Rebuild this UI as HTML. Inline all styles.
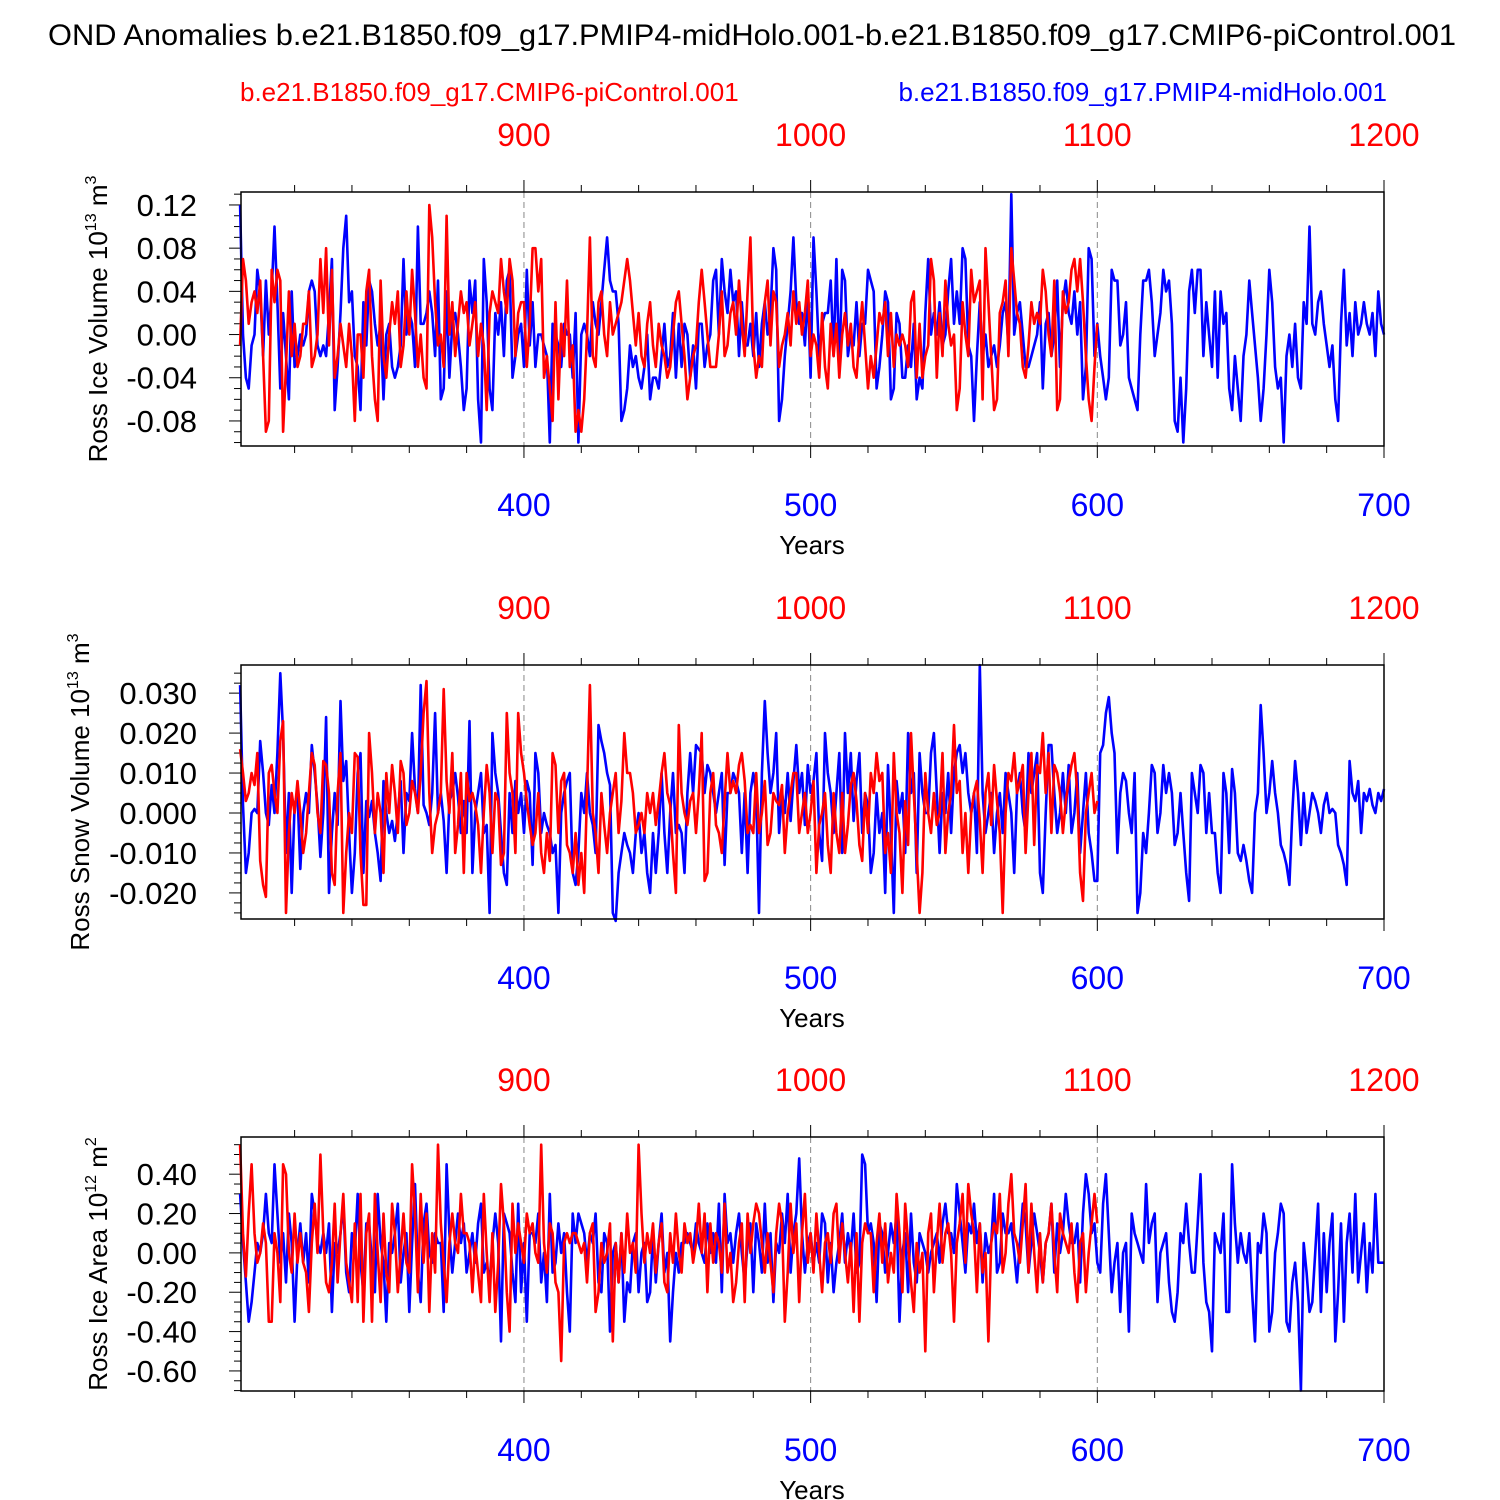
<!DOCTYPE html>
<html><head><meta charset="utf-8"><style>
html,body{margin:0;padding:0;background:#fff;}
svg{display:block;font-family:"Liberation Sans",Arial,sans-serif;}
</style></head><body>
<svg id="chart" width="1500" height="1500" viewBox="0 0 1500 1500">
<text x="752" y="45" font-size="30" text-anchor="middle" textLength="1408" lengthAdjust="spacingAndGlyphs">OND Anomalies b.e21.B1850.f09_g17.PMIP4-midHolo.001-b.e21.B1850.f09_g17.CMIP6-piControl.001</text>
<text x="240" y="101" font-size="26" fill="#ff0000">b.e21.B1850.f09_g17.CMIP6-piControl.001</text>
<text x="1387" y="101" font-size="26" fill="#0000ff" text-anchor="end">b.e21.B1850.f09_g17.PMIP4-midHolo.001</text>
</svg>
<script>
// shared axis data
const blueStart = 301;
const redStart = 801;
const xTickLabelsBlue = [400, 500, 600, 700];
const xTickLabelsRed = [900, 1000, 1100, 1200];

// panel 1: Ross Ice Volume (units of 0.01)
const iceVolBlue = [
12,0,-4,-5,-1,0,6,4,-2,5, 0,4,10,3,-5,2,-2,-6,4,-3, -2,0,-1,0,4,5,4,-1,-2,-1, -2,2,7,-7,-3,2,8,11,3,4,
-2,-3,-7,3,-1,5,4,1,-1,1, -6,0,1,-3,-4,-3,-1,7,0,2, 1,-3,10,1,1,2,4,2,-2,5, -6,-5,4,-4,1,2,0,-3,-7,-5,
5,2,5,-6,-10,7,3,-5,-7,2, 0,3,-2,5,6,-4,-2,0,1,-3, 6,-1,3,-3,0,0,-1,-2,-10,1, 0,-1,-3,1,0,0,-4,2,-10,0,
1,0,-2,3,1,0,3,6,9,5, 4,4,1,-8,-7,-5,-1,-3,-2,-4, -5,-3,0,-6,-4,-4,-5,-2,1,-3, -2,2,-4,1,-3,1,0,-4,-1,-5,
1,1,-3,-1,0,5,6,0,7,4, 2,6,3,4,-2,3,-1,-1,1,-2, 2,-3,1,3,0,2,8,6,-8,-6, -2,1,4,9,3,1,2,-1,4,-4,
9,4,-2,1,2,2,5,-2,7,-3, 6,5,-2,0,-1,3,-2,1,1,6, 5,4,-5,-3,0,4,3,-6,-5,2, 1,-4,-4,-1,-3,1,-6,-4,-5,2,
7,0,2,0,3,-1,0,4,7,1, 4,1,8,7,-1,-2,-8,-2,3,-2, 0,-3,-2,-1,-3,-1,2,3,-1,13, 0,2,3,0,-3,-3,-2,-1,0,3,
-5,1,2,-2,0,5,-3,3,5,2, 1,4,0,3,-6,-3,8,7,-2,1, -2,-4,-6,-4,6,5,5,-1,0,3, -4,-5,-6,-7,0,5,5,6,3,-2,
0,2,6,4,5,1,-8,-9,-4,-10, -5,4,6,2,6,6,-2,3,0,-3, 4,-4,4,1,2,-5,-7,-2,-5,-8, -2,0,5,2,-1,-4,-8,-5,0,6,
3,-3,-5,-4,-10,-2,0,-3,1,-4, -5,3,1,10,1,0,3,4,1,-1, -3,-1,-6,-8,1,6,-1,2,-2,3, 0,1,3,1,0,2,-2,4,1,0];
const iceVolRed = [
-1,7,5,1,3,4,2,5,-2,-9, -8,6,3,6,5,-9,-3,4,-2,1, -3,-2,1,1,4,-3,-2,0,7,2, 8,-1,6,-4,-2,1,-1,-3,1,-2,
-8,0,0,-4,4,6,-2,-6,-8,5, -2,-4,0,3,1,4,-3,-1,4,0, 6,2,-3,0,-4,-5,12,9,3,-1, 0,-3,11,0,3,-2,1,4,2,3,
-1,1,3,-2,1,-1,-7,2,4,3, 2,7,4,2,7,5,-2,2,3,3, -3,1,8,8,4,7,-4,-2,-5,-8, 3,-6,1,-2,5,-3,-1,-9,-7,-9,
-6,0,9,-2,-3,3,4,0,-2,3, 0,1,2,3,5,7,5,2,-1,2, -2,-3,1,3,-1,-3,1,-1,-2,-4, -3,0,3,4,1,-2,-6,-4,-2,-1,
3,6,3,0,-3,-3,-3,0,4,-2, -1,2,3,0,5,1,-2,4,9,-1, -4,-2,-3,3,5,-1,4,3,-3,-1, 0,2,-1,4,1,3,0,2,5,-2,
0,-1,-4,2,-3,-5,1,-2,1,-4, 0,2,-1,1,-3,-4,0,3,-1,-5, -2,-4,-1,2,1,3,-2,2,-3,0, -1,0,-1,-3,3,4,-4,1,-4,-2,
-1,7,5,-4,2,-2,5,1,-1,0, -7,-5,3,0,-2,6,3,4,5,-6, 8,3,-2,-7,-6,2,3,5,-2,8, 5,2,1,-3,-4,-1,3,1,2,1,
6,4,0,-2,5,-7,-6,4,2,3, 6,7,4,7,3,-2,-6,-8,-3,1];

// panel 2: Ross Snow Volume (units of 0.001)
const snowVolBlue = [
32,2,-15,-10,0,1,0,18,10,0, -3,7,0,15,35,20,-10,5,-20,2, 5,-14,0,5,0,17,10,2,-11,0, 24,-20,-5,5,-3,28,8,13,-5,-20,
-10,10,15,-15,3,-1,3,-5,-10,-17, 8,0,-5,-2,-7,0,8,-10,5,3, 20,6,0,32,2,0,-3,5,25,0, 5,-2,-15,3,5,10,4,-5,3,-5,
23,-15,0,5,10,-5,-3,-25,20,10, 5,-5,-15,-18,5,-5,8,0,5,-5, 8,5,-13,15,10,-5,0,-3,-5,-10, -8,-25,0,5,8,10,-15,-18,-10,5,
0,10,0,-3,-10,22,18,15,10,7, -25,-27,-15,-10,-5,-8,-10,-15,-5,0, -10,-5,-15,-20,-5,-15,-5,10,-5,-15, 0,10,-5,-3,-5,-15,5,15,5,17,
16,15,5,12,10,5,0,5,10,-13, 5,5,10,8,5,-10,5,-15,5,10, 5,-25,10,28,15,5,10,20,-5,5, 0,10,-2,8,17,5,10,-3,12,5,
8,15,-5,-12,20,10,5,-5,5,15, -10,20,5,15,-2,8,15,-5,5,2, -15,-10,5,-5,0,-20,12,-5,-25,8, 0,5,-10,20,5,10,-15,15,5,0,
0,15,20,5,-10,5,0,10,-5,10, 15,17,10,15,5,0,5,-10,37,5, -5,0,5,-10,0,5,-5,10,5,0, -15,5,10,0,-5,15,5,10,15,-15,
-20,0,17,17,5,-5,0,10,0,12, -5,0,10,-10,0,10,-5,-10,-17,-17, 15,17,25,29,20,15,-10,5,10,8, 0,-5,10,-25,-20,-5,-10,0,12,10,
-5,0,12,5,10,5,-8,-5,5,-5, -15,-22,10,5,0,12,10,-5,5,-5, -5,-15,-20,10,5,-10,11,5,-10,-12, -8,-12,-17,-20,0,5,27,15,0,5,
13,5,0,-8,-10,-13,-18,0,13,5, -8,5,-5,0,5,3,0,-5,2,5, 0,1,0,-8,-10,-13,-18,13,5,3, 8,-5,5,3,6,2,0,5,3,6];
const snowVolRed = [
16,10,3,5,10,7,15,-12,-18,-21, 10,12,5,0,18,23,-25,-5,5,0, 8,0,-10,-5,5,15,12,0,-5,13, 12,5,-15,-18,5,15,-25,-10,0,-5,
15,14,-10,-23,-23,20,10,-5,5,0, -15,10,0,12,5,-5,13,10,-3,0, 8,5,0,10,25,33,5,-10,-3,0, 5,31,8,0,15,-10,-3,10,-15,10,
3,5,2,-3,-15,0,12,5,-10,5, 3,-13,-10,25,10,5,-10,25,15,10, 3,-3,-8,-5,5,-10,-15,-5,-12,15, 12,-5,8,10,-8,-10,-15,-5,-18,-10,
-20,5,32,0,-5,-15,5,-3,-10,0, 5,10,-5,3,20,10,10,5,-5,-3, 0,-5,5,0,5,-3,3,10,15,5, 2,-10,-20,22,5,0,-3,3,5,-5,
5,20,-17,-15,5,10,-3,-5,-10,3, 15,5,8,5,12,15,8,-5,-3,-5, 10,-5,0,8,-8,-5,5,3,2,7, -10,0,5,10,10,-5,0,5,-5,0,
8,-15,-3,0,5,-8,-15,5,-5,-10, 5,-10,-3,7,10,3,-8,-12,5,-5, 10,5,15,8,10,-10,-5,-15,15,0, -5,-20,3,-8,20,5,-10,-25,-15,10,
0,-5,5,-3,0,15,-10,0,5,22, 5,8,-10,0,-15,0,5,8,-2,-15, 5,10,-3,12,3,-5,-25,0,10,8, 15,5,8,12,-10,5,15,-8,12,10,
20,5,15,-5,12,10,5,-5,3,8, 12,15,5,-15,-22,0,5,10,0,3];

// panel 3: Ross Ice Area (units of 0.01)
const iceAreaBlue = [
30,5,-15,-35,-25,-10,5,0,10,30, 10,5,45,20,-5,10,-15,20,5,-35, 0,15,-5,10,-15,30,20,5,0,10, 0,15,-30,5,0,10,25,-10,-20,10,
0,30,-5,-20,15,15,-5,-20,30,5, -5,-35,5,0,10,25,-15,0,10,-30, 5,35,-10,-25,15,25,0,-5,10,5, 5,-30,45,10,-10,5,20,5,15,-10,
0,10,-5,15,25,-10,-5,-15,5,20, 5,-45,20,15,10,-10,-25,25,-20,5, -35,10,10,5,20,-15,0,-25,30,-10, -5,15,0,10,-20,-40,20,5,20,15,
10,-5,10,5,20,-15,-20,10,5,-40, 0,5,-15,10,-35,-15,-20,5,10,-20, 0,5,-25,-20,10,-15,5,20,-10,0, -45,-20,0,-10,5,5,10,5,0,15,
5,0,-5,15,0,10,-5,25,-20,30, 5,10,-5,10,20,0,-15,5,15,-20, 15,5,-10,25,-5,10,-25,5,0,20, 5,30,-10,10,20,48,10,-10,5,10,
-5,5,-5,20,15,-15,5,-20,-5,5, 20,-5,10,0,20,-10,-5,50,45,10, 15,5,-25,15,10,-10,0,15,5,20, -35,0,10,-20,20,-5,-15,10,5,0,
-10,0,5,10,-5,15,25,10,10,0, 35,20,5,-10,15,10,25,5,15,-15, 10,0,5,30,-10,-5,20,10,10,15, 0,-15,5,25,15,-10,5,20,10,0,
-15,5,10,25,-10,15,0,10,30,15, 5,5,15,-15,20,40,30,10,15,-5, -10,25,40,10,-20,-5,5,-30,0,5, -40,20,10,5,0,-5,35,5,15,20,
-25,0,5,10,-15,-30,-35,-20,10,5, 25,5,-10,-10,15,40,-5,-25,-30,-50, 10,5,0,20,-30,-30,45,15,-5,10, 0,-5,10,-20,-45,5,0,20,10,-40,
-30,0,10,25,20,-35,-40,-15,-5,-25, -70,5,-10,-30,-25,0,25,-30,10,-20, 5,20,-45,-20,15,-35,5,20,-10,30, -15,0,15,-20,5,-10,30,-5,-5,-5];
const iceAreaRed = [
55,10,-12,20,45,10,-5,0,15,5, -35,-35,10,0,-25,45,40,0,-10,20, -5,10,-5,-10,-30,5,25,0,50,10, -15,-20,-5,25,-15,10,30,-5,-15,-25,
15,-25,30,-35,10,20,-35,30,0,-25, 20,-10,-20,25,10,-20,0,20,-5,-10, 45,20,-20,30,-5,20,-30,10,-10,55, 15,-5,-25,5,20,5,0,30,10,10,
5,-20,5,-10,-25,30,0,-25,10,-30, -5,35,15,-20,-40,25,0,15,5,-5, 20,10,15,0,-5,55,5,-10,15,10, -15,-20,-55,5,10,5,10,10,5,0,
5,-15,10,15,-30,-20,5,-5,0,15, -45,5,-15,10,-10,20,0,5,-10,55, 20,-5,10,0,15,-10,5,15,-15,-20, 10,-5,20,0,-10,15,5,10,-5,5,
25,0,20,-20,15,-5,10,5,-10,25, -10,0,-25,-15,5,15,-25,20,0,15, 25,20,5,-10,10,-5,-20,10,25,15, -35,-10,25,0,15,-25,10,30,-5,10,
-10,20,0,-20,5,10,-5,20,25,-5, 15,0,-15,5,-30,10,-35,5,15,10, 10,-20,5,20,-5,15,-15,0,-10,30, 10,-20,25,5,-15,-30,5,-10,0,-50,
10,20,-20,5,25,-5,10,15,0,-35, 5,15,30,-5,35,20,10,-20,15,-10, 0,-45,5,15,10,30,-10,0,25,40, 10,5,-5,15,35,-10,25,0,-20,10,
-15,5,10,25,0,-20,20,10,5,0, 15,-10,-25,5,10,-20,0,15,30,15];

const panelTicks1 = ["0.12","0.08","0.04","0.00","-0.04","-0.08"];
const panelTicks2 = ["0.030","0.020","0.010","0.000","-0.010","-0.020"];
const panelTicks3 = ["0.40","0.20","0.00","-0.20","-0.40","-0.60"];

const NS = "http://www.w3.org/2000/svg";
const svg = document.getElementById('chart');
const X0 = 241, X1 = 1384;
const blueX = y => X0 + (y - 301.3) * (X1 - X0) / (700 - 301.3);
const redX = y => blueX(y - 500);
function mk(tag, attrs, parent) {
  const e = document.createElementNS(NS, tag);
  for (const k in attrs) e.setAttribute(k, attrs[k]);
  (parent || svg).appendChild(e);
  return e;
}

const panels = [
  {off:0, ymin:-0.1032, ymax:0.132, scale:0.01, blue:iceVolBlue, red:iceVolRed, ticks:panelTicks1, major:0.04, minor:0.01, label:"Ross Ice Volume 10", sup:"13", unit:" m", usup:"3", lx:107, name:"ice-volume"},
  {off:473, ymin:-0.02653, ymax:0.03704, scale:0.001, blue:snowVolBlue, red:snowVolRed, ticks:panelTicks2, major:0.01, minor:0.0025, label:"Ross Snow Volume 10", sup:"13", unit:" m", usup:"3", lx:89, name:"snow-volume"},
  {off:945, ymin:-0.702, ymax:0.589, scale:0.01, blue:iceAreaBlue, red:iceAreaRed, ticks:panelTicks3, major:0.2, minor:0.05, label:"Ross Ice Area 10", sup:"12", unit:" m", usup:"2", lx:107, name:"ice-area"}
];

panels.forEach((p, pi) => {
  const T = 192 + p.off, B = 446 + p.off;
  const Y = v => B - (v - p.ymin) * (B - T) / (p.ymax - p.ymin);
  const g = mk('g', {});
  
  
  [400, 500, 600].forEach(yr => {
    const l = mk('line', {x1:blueX(yr), x2:blueX(yr), y1:T, y2:B, stroke:'#888', 'stroke-width':1, 'stroke-dasharray':'6,4'}, g);
    
    
  });
  for (let yr = 320; yr <= 700; yr += 20) {
    const x = blueX(yr), len = (yr % 100 === 0) ? 12 : 7;
    mk('line', {x1:x, x2:x, y1:B, y2:B + len, stroke:'#000', 'stroke-width':1}, g);
    mk('line', {x1:x, x2:x, y1:T, y2:T - len, stroke:'#000', 'stroke-width':1}, g);
  }
  const nMin = Math.ceil(p.ymin / p.minor - 1e-6), nMax = Math.floor(p.ymax / p.minor + 1e-6);
  for (let n = nMin; n <= nMax; n++) {
    const v = n * p.minor;
    const isMaj = Math.abs(v / p.major - Math.round(v / p.major)) < 1e-6;
    mk('line', {x1:X0 - (isMaj ? 12 : 7), x2:X0, y1:Y(v), y2:Y(v), stroke:'#000', 'stroke-width':1}, g);
  }
  p.ticks.forEach(t => {
    const tx = mk('text', {x:197, y:Y(parseFloat(t)) + 11, 'font-size':31, 'text-anchor':'end'}, g);
    tx.textContent = t;
    
    
  });
  const bpts = p.blue.map((v, i) => blueX(blueStart + i).toFixed(1) + ',' + Y(v * p.scale).toFixed(1)).join(' ');
  const bl = mk('polyline', {points:bpts, fill:'none', stroke:'#0000ff', 'stroke-width':2.6, 'stroke-linejoin':'round'}, g);
  
  
  const rpts = p.red.map((v, i) => redX(redStart + i).toFixed(1) + ',' + Y(v * p.scale).toFixed(1)).join(' ');
  const rl = mk('polyline', {points:rpts, fill:'none', stroke:'#ff0000', 'stroke-width':2.6, 'stroke-linejoin':'round'}, g);
  
  
  const fr = mk('rect', {x:X0, y:T, width:X1 - X0, height:B - T, fill:'none', stroke:'#000', 'stroke-width':1.5}, g);
  
  
  xTickLabelsRed.forEach(yr => {
    const t = mk('text', {x:redX(yr), y:T - 46, 'font-size':32, 'text-anchor':'middle', fill:'#ff0000'}, g);
    t.textContent = yr;
    
    
  });
  xTickLabelsBlue.forEach(yr => {
    const t = mk('text', {x:blueX(yr), y:B + 70, 'font-size':32, 'text-anchor':'middle', fill:'#0000ff'}, g);
    t.textContent = yr;
    
    
  });
  const xt = mk('text', {x:812, y:B + 108, 'font-size':26, 'text-anchor':'middle'}, g);
  xt.textContent = 'Years';
  
  
  const cy = (T + B) / 2;
  const yt = mk('text', {x:0, y:0, 'font-size':26, 'text-anchor':'middle', transform:'translate(' + p.lx + ',' + cy + ') rotate(-90)'}, g);
  
  
  const s1 = mk('tspan', {}, yt); s1.textContent = p.label;
  const s2 = mk('tspan', {dy:-11, 'font-size':16}, yt); s2.textContent = p.sup;
  const s3 = mk('tspan', {dy:11}, yt); s3.textContent = p.unit;
  const s4 = mk('tspan', {dy:-11, 'font-size':16}, yt); s4.textContent = p.usup;
});
</script>
</body></html>
